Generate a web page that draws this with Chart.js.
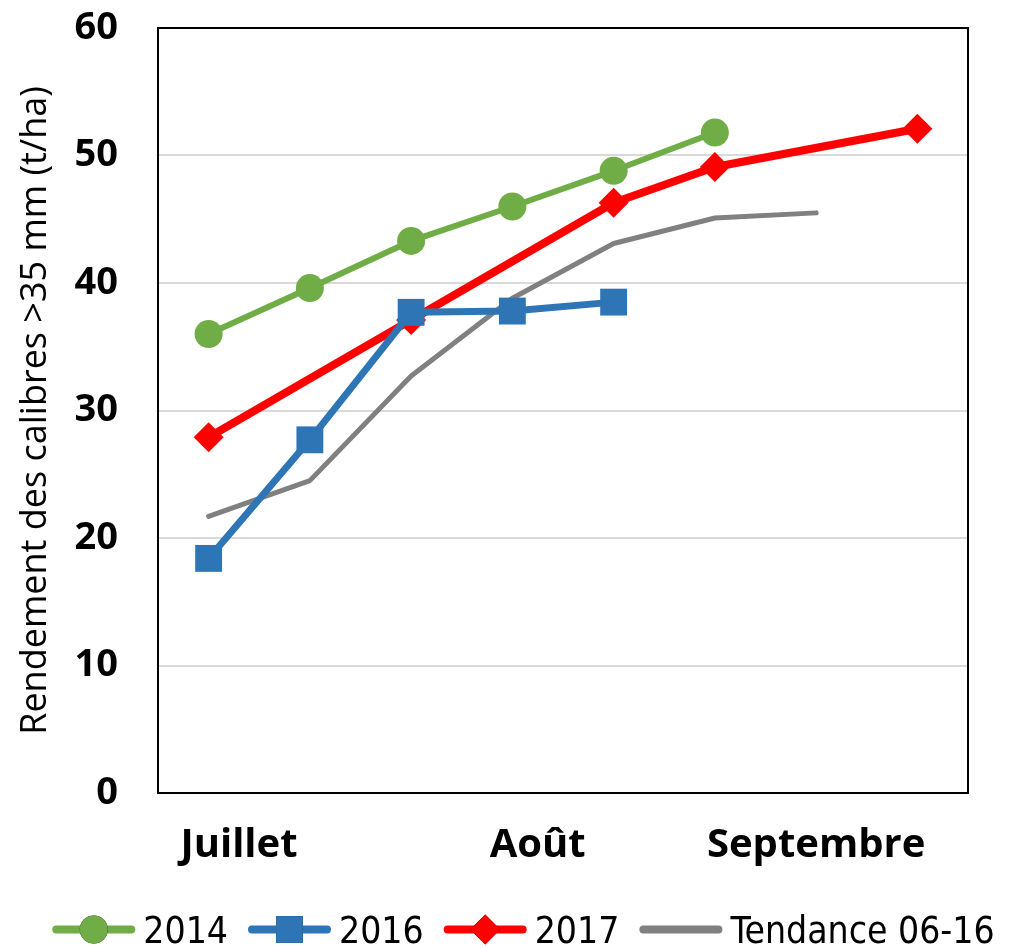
<!DOCTYPE html>
<html>
<head>
<meta charset="utf-8">
<script src="https://cdn.jsdelivr.net/npm/chart.js@4/dist/chart.umd.min.js"></script>
<style>
  html, body { margin: 0; padding: 0; background: #fff; }
  #wrap { width: 1023px; height: 948px; }
</style>
</head>
<body>
<div id="wrap"><canvas id="chart" width="1023" height="948"></canvas></div>
<script>
// sampling dates (8 observations), only month names shown on the axis
const samples = ['s1', 's2', 's3', 's4', 's5', 's6', 's7', 's8']
const monthLabels = ['Juillet', 'Août', 'Septembre']
// where the month names sit, in sample units
const monthPos = [0.3, 3.25, 6.0]

const y2014 = [36.0, 39.6, 43.3, 46.0, 48.8, 51.8, null, null]
const y2016 = [18.4, 27.7, 37.7, 37.8, 38.5, null, null, null]
const y2017 = [27.9, null, 37.1, null, 46.3, 49.1, null, 52.1]
const yTrend = [21.7, 24.5, 32.7, 38.8, 43.1, 45.1, 45.5, null]

const yTicks = [0, 10, 20, 30, 40, 50, 60]

const font = "'Open Sans', sans-serif"
const legendFont = "'DejaVu Sans Condensed', 'DejaVu Sans', sans-serif"
const legendSize = 37
const lineLen = 83

// black frame round the plot area
const frame = {
	id: 'frame',
	afterDraw(chart) {
		const a = chart.chartArea
		const ctx = chart.ctx
		ctx.save()
		ctx.strokeStyle = '#000'
		ctx.lineWidth = 2
		ctx.strokeRect(a.left, a.top, a.right - a.left, a.bottom - a.top)
		ctx.restore()
	}
}

// move the legend to where it sits in the original
const legendPlace = {
	id: 'legendPlace',
	afterLayout(chart) {
		const lg = chart.legend
		const pad = lg.options.labels.padding
		const h = lg.bottom - lg.top
		// adjustHitBoxes adds the offset again, take the old one off first
		lg.legendHitBoxes.forEach(hb => { hb.top -= lg.top + pad })
		lg.left = 24
		lg.right = 1023
		lg.top = 933 - legendSize / 2 - pad
		lg.bottom = lg.top + h
		lg.adjustHitBoxes()
	}
}

// legend: thick line with the marker on top
const legendMarks = {
	id: 'legendMarks',
	afterDraw(chart) {
		const lg = chart.legend
		const ctx = chart.ctx
		lg.legendItems.forEach((item, i) => {
			const box = lg.legendHitBoxes[i]
			const ds = chart.data.datasets[item.datasetIndex]
			const cy = box.top + box.height / 2 - 17
			ctx.save()
			ctx.strokeStyle = ds.borderColor
			ctx.lineWidth = 8
			ctx.lineCap = 'round'
			ctx.beginPath()
			ctx.moveTo(box.left + 4, cy)
			ctx.lineTo(box.left + lineLen - 4, cy)
			ctx.stroke()
			if (ds.pointRadius > 0) {
				Chart.helpers.drawPoint(ctx, {
					pointStyle: ds.pointStyle,
					radius: ds.pointRadius,
					rotation: 0,
					borderWidth: 0
				}, box.left + lineLen / 2, cy)
				ctx.fillStyle = ds.borderColor
				ctx.fill()
			}
			ctx.restore()
		})
	}
}

function series(label, data, color, width, style, radius) {
	return {
		label: label,
		data: data,
		borderColor: color,
		backgroundColor: color,
		borderWidth: width,
		pointStyle: style,
		pointRadius: radius,
		pointHoverRadius: radius,
		pointBorderWidth: 0,
		borderCapStyle: 'round',
		borderJoinStyle: 'round',
		spanGaps: true,
		tension: 0,
		xAxisID: 'x',
		yAxisID: 'y'
	}
}

new Chart(document.getElementById('chart'), {
	type: 'line',
	data: {
		labels: samples,
		datasets: [
			series('2014', y2014, '#70ad47', 6, 'circle', 14),
			series('2016', y2016, '#2e75b6', 7, 'rect', 19),
			series('2017', y2017, '#ff0000', 8, 'rectRot', 15),
			series('Tendance 06-16', yTrend, '#808080', 5, 'circle', 0)
		]
	},
	options: {
		responsive: false,
		animation: false,
		layout: { padding: { top: 4, right: 0, left: 0, bottom: 0 } },
		plugins: {
			tooltip: { enabled: false },
			legend: {
				position: 'bottom',
				labels: {
					color: '#000',
					font: { family: legendFont, size: legendSize },
					boxWidth: lineLen + 8 - legendSize / 2,
					boxHeight: 7,
					padding: 20,
					generateLabels(chart) {
						return chart.data.datasets.map((ds, i) => ({
							text: ds.label,
							fillStyle: 'rgba(0,0,0,0)',
							strokeStyle: 'rgba(0,0,0,0)',
							lineWidth: 0,
							datasetIndex: i
						}))
					}
				}
			}
		},
		scales: {
			x: {
				type: 'category',
				offset: true,
				grid: { display: false },
				border: { display: false },
				ticks: { display: false },
				afterFit(axis) { axis.height = 0 }
			},
			months: {
				type: 'linear',
				position: 'bottom',
				min: -0.5,
				max: 7.5,
				grid: { display: false },
				border: { display: false },
				afterBuildTicks(axis) {
					axis.ticks = monthPos.map(v => ({ value: v }))
				},
				afterFit(axis) { axis.height = 88 },
				ticks: {
					color: '#000',
					padding: 21,
					maxRotation: 0,
					autoSkip: false,
					font: { family: font, size: 40, weight: 'bold' },
					callback: (v) => monthLabels[monthPos.indexOf(v)]
				}
			},
			y: {
				min: 0,
				max: 60,
				afterBuildTicks(axis) {
					axis.ticks = yTicks.map(v => ({ value: v }))
				},
				afterFit(axis) {
					axis.width = 158
					axis.paddingTop = 28
					axis.paddingBottom = 22
				},
				grid: { color: '#d9d9d9', lineWidth: 2, drawTicks: false },
				border: { display: false },
				ticks: {
					color: '#000',
					padding: 40,
					font: { family: font, size: 38, weight: 'bold' }
				},
				title: {
					display: true,
					text: 'Rendement des calibres >35 mm (t/ha)',
					color: '#000',
					padding: { top: 14, bottom: 20 },
					font: { family: font, size: 36 }
				}
			},
			// empty strip on the right of the plot
			side: {
				position: 'right',
				grid: { display: false },
				border: { display: false },
				ticks: { display: false },
				afterFit(axis) { axis.width = 55 }
			}
		}
	},
	plugins: [frame, legendPlace, legendMarks]
})
</script>
</body>
</html>
